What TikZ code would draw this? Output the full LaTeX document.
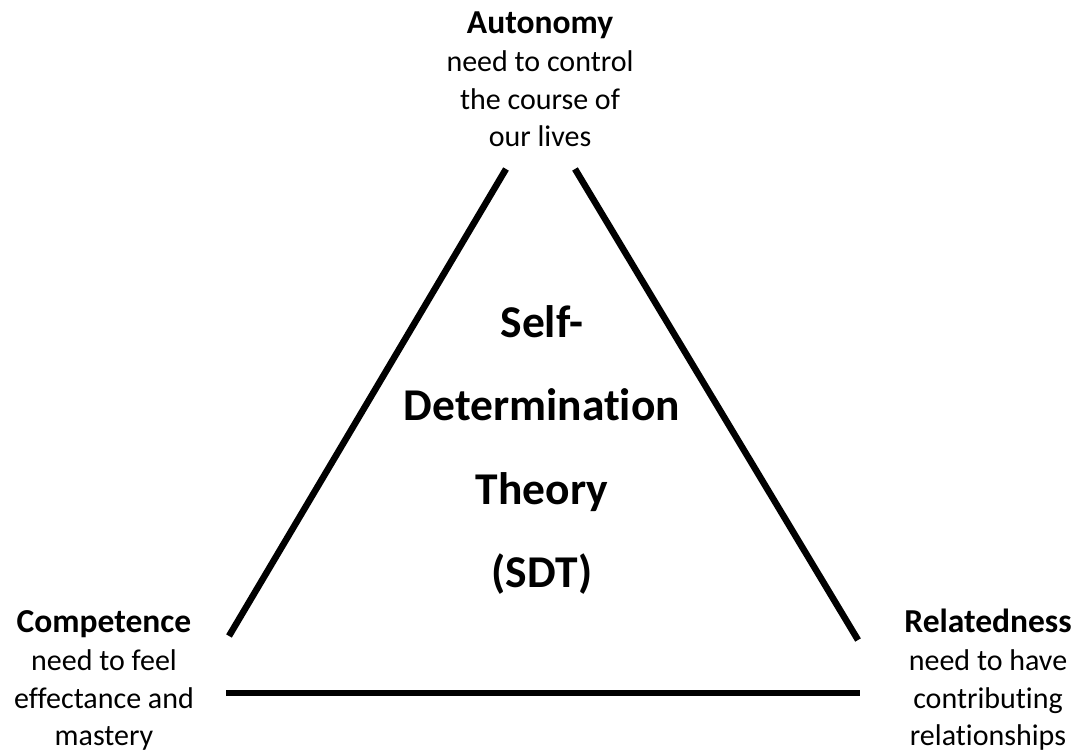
\documentclass[tikz,border=0pt]{standalone}
\usepackage{fontspec}
\setmainfont{Carlito}[Ligatures={NoCommon}]
\newcommand{\headtxt}[1]{{\fontsize{33.5}{37.7}\selectfont\bfseries #1}}
\begin{document}
\begin{tikzpicture}[x=1pt,y=1pt,
  side/.style={align=center,inner sep=0pt,anchor=base,font=\fontsize{30}{37.7}\selectfont},
  centre/.style={align=center,inner sep=0pt,anchor=base,font=\fontsize{45.5}{83.5}\selectfont\bfseries},
  edge/.style={line width=6.5pt,black}]
\useasboundingbox (0,0) rectangle (1083,754);
\node[side] (aut) at (540,607) {\headtxt{Autonomy}\\need to control\\the course of\\our lives};
\node[side] (com) at (104,8) {\headtxt{Competence}\\need to feel\\effectance and\\mastery};
\node[side] (rel) at (988,8) {\headtxt{Relatedness}\\need to have\\contributing\\relationships};
\node[centre] (sdt) at (542,166) {Self-\\Determination\\Theory\\(SDT)};
\coordinate (lb) at (229,118);
\coordinate (lt) at (506,585);
\coordinate (rt) at (575,585);
\coordinate (rb) at (858,114);
\coordinate (bl) at (226,61);
\coordinate (br) at (860,61);
\draw[edge] (lb) -- (lt);
\draw[edge] (rt) -- (rb);
\draw[edge] (bl) -- (br);
\end{tikzpicture}
\end{document}
